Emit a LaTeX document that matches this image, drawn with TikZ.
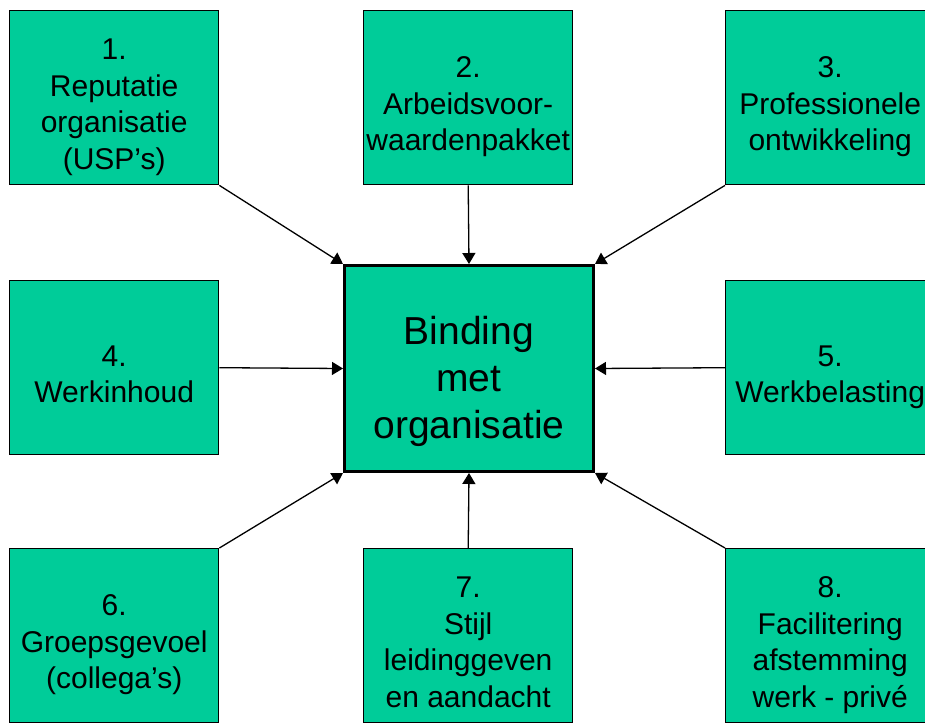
\documentclass[tikz,border=0pt]{standalone}
\usepackage{fontspec}
\setmainfont{Liberation Sans}
\usetikzlibrary{arrows.meta}
\definecolor{boxgreen}{RGB}{0,204,153}
% fixed line boxes so every line takes the same room
\newcommand\ls{\rule[-7pt]{0pt}{47.5pt}}
\newcommand\lc{\rule[-9pt]{0pt}{64pt}}
\lineskiplimit-100pt
\tikzset{
  factor/.style={draw=black, line width=1.4pt, fill=boxgreen, rectangle,
    minimum width=209pt, minimum height=174pt, inner sep=0pt,
    align=center, font=\fontsize{30pt}{36.5pt}\selectfont},
  core/.style={draw=black, line width=3pt, fill=boxgreen, rectangle,
    minimum width=249pt, minimum height=206pt, inner sep=0pt,
    align=center, font=\fontsize{39pt}{47pt}\selectfont},
  arr/.style={line width=1.3pt, -{Triangle[length=11pt, width=13pt]}}
}
\begin{document}
\begin{tikzpicture}[x=1pt, y=-1pt]
  \clip (0,0) rectangle (925,722);
  \fill[white] (0,0) rectangle (925,722);

  % surrounding factors
  \node[factor, anchor=north west] (f1) at (9,10) {\ls 1.\\\ls Reputatie~\\\ls organisatie\\\ls (USP’s)};
  \node[factor, anchor=north west] (f2) at (363,10) {\ls 2.\\\ls Arbeidsvoor-\\\ls waardenpakket};
  \node[factor, anchor=north west] (f3) at (725,10) {\ls 3.\\\ls Professionele\\\ls ontwikkeling};
  \node[factor, anchor=north west] (f4) at (9,280) {\ls 4.\\\ls Werkinhoud};
  \node[factor, anchor=north west] (f5) at (725,280) {\ls 5.\\\ls Werkbelasting};
  \node[factor, anchor=north west] (f6) at (9,548) {\ls 6.\\\ls Groepsgevoel\\\ls (collega’s)};
  \node[factor, anchor=north west] (f7) at (363,548) {\ls 7.\\\ls Stijl\\\ls leidinggeven~\\\ls en aandacht};
  \node[factor, anchor=north west] (f8) at (725,548) {\ls 8.\\\ls Facilitering\\\ls afstemming\\\ls werk - privé};

  % central box
  \node[core, anchor=north west] (c) at (343,264) {\lc Binding~\\\lc met\\\lc organisatie};

  % connectors into the centre
  \draw[arr] (f1.south east) -- (c.north west);
  \draw[arr] (f2.south) -- (c.north);
  \draw[arr] (f3.south west) -- (c.north east);
  \draw[arr] (f4.east) -- (c.west);
  \draw[arr] (f5.west) -- (c.east);
  \draw[arr] (f6.north east) -- (c.south west);
  \draw[arr] (f7.north) -- (c.south);
  \draw[arr] (f8.north west) -- (c.south east);
\end{tikzpicture}
\end{document}
